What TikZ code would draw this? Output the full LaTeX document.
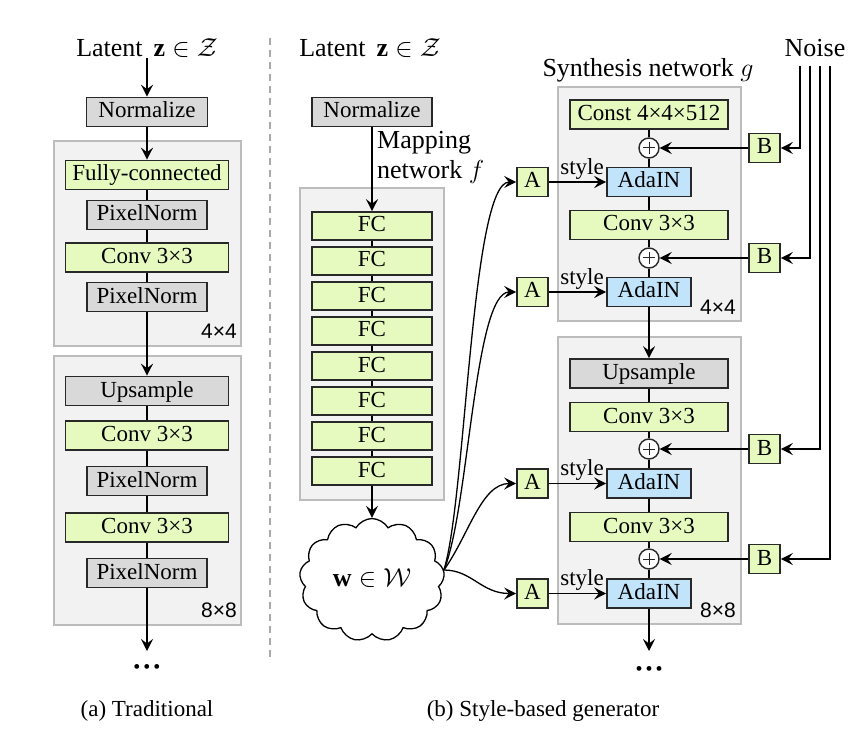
\documentclass[tikz,border=0pt]{standalone}
\usepackage{fix-cm}
\usepackage{fontspec}
\setmainfont{Liberation Serif}
\newfontfamily\labsans{Liberation Sans}
\usetikzlibrary{shapes.symbols,arrows.meta}
\definecolor{fcgreen}{RGB}{230,250,192}
\definecolor{boxgray}{RGB}{217,217,217}
\definecolor{adablue}{RGB}{194,228,250}
\definecolor{blockbg}{RGB}{242,242,242}
\definecolor{blockln}{RGB}{188,188,188}
\definecolor{edgec}{RGB}{40,40,40}
\definecolor{dashc}{RGB}{170,170,170}
\tikzset{
  boxbase/.style={draw=edgec, line width=1.6pt, inner sep=0pt, minimum height=29pt,
    text height=15pt, text depth=3pt, font=\fontsize{23}{27}\selectfont},
  fbox/.style={boxbase, fill=fcgreen},
  gbox/.style={boxbase, fill=boxgray},
  abox/.style={boxbase, fill=adablue, minimum width=84pt},
  sbox/.style={boxbase, fill=fcgreen, minimum width=31pt},
  block/.style={draw=blockln, fill=blockbg, line width=1.3pt, inner sep=0pt},
  titletext/.style={font=\fontsize{26}{30}\selectfont, inner sep=0pt},
  captext/.style={font=\fontsize{23}{27}\selectfont, inner sep=0pt},
  sizetext/.style={font=\labsans\fontsize{21}{24}\selectfont, inner sep=0pt, anchor=base east},
  conn/.style={line width=1.6pt, draw=black},
  arr/.style={conn, -{Stealth[length=12pt,width=12pt,inset=4.5pt]}},
  pluscirc/.style={circle, draw=edgec, fill=white, line width=1.4pt, minimum size=20pt, inner sep=0pt,
    path picture={\draw[line width=1pt] ([xshift=-6pt]path picture bounding box.center) -- ([xshift=6pt]path picture bounding box.center)
      ([yshift=-6pt]path picture bounding box.center) -- ([yshift=6pt]path picture bounding box.center);}},
  styletext/.style={font=\fontsize{23}{27}\selectfont, inner sep=1pt},
}
\begin{document}
\begin{tikzpicture}[x=1pt,y=-1pt]
\useasboundingbox (0,0) rectangle (868,746);
% separator
\draw[dashc, line width=1.2pt, dash pattern=on 7pt off 5pt] (270,38) -- (270,662);
% blocks
\node[block, minimum width=187pt, minimum height=205pt] (T1) at (147.5,243.5) {};
\node[block, minimum width=187pt, minimum height=269pt] (T2) at (147.5,490.5) {};
\node[block, minimum width=144pt, minimum height=312pt] (M) at (372,344) {};
\node[block, minimum width=183pt, minimum height=234pt] (S1) at (649.5,204) {};
\node[block, minimum width=183pt, minimum height=287pt] (S2) at (649.5,480.5) {};
\node[sizetext] (l1) at (237,338) {4×4};
\node[sizetext] (l2) at (237,617) {8×8};
\node[sizetext] (l3) at (736,315) {4×4};
\node[sizetext] (l4) at (736,617) {8×8};

% ---------- (a) traditional ----------
\node[titletext] (lat1) at (147,48) {Latent \,$\mathbf{z}\in\mathcal{Z}$};
\node[gbox, minimum width=121pt] (norm1) at (147,112) {Normalize};
\node[fbox, minimum width=163pt] (fc) at (147,175) {Fully-connected};
\node[gbox, minimum width=120pt] (pn1) at (147,215) {PixelNorm};
\node[fbox, minimum width=163pt] (cv1) at (147,257.5) {Conv 3×3};
\node[gbox, minimum width=120pt] (pn2) at (147,297) {PixelNorm};
\node[gbox, minimum width=163pt] (up1) at (147,391) {Upsample};
\node[fbox, minimum width=163pt] (cv2) at (147,435.5) {Conv 3×3};
\node[gbox, minimum width=120pt] (pn3) at (147,481) {PixelNorm};
\node[fbox, minimum width=163pt] (cv3) at (147,527.5) {Conv 3×3};
\node[gbox, minimum width=120pt] (pn4) at (147,573) {PixelNorm};
\coordinate (end1) at (147,651);
\node[font=\fontsize{20}{24}\selectfont, inner sep=0pt] (dots1) at (147,669) {\textbullet\kern3pt\textbullet\kern3pt\textbullet};
\node[captext] (capa) at (147,711) {(a) Traditional};

\draw[arr] (lat1) -- (norm1);
\draw[arr] (norm1) -- (fc);
\draw[conn] (fc) -- (pn1);
\draw[conn] (pn1) -- (cv1);
\draw[conn] (cv1) -- (pn2);
\draw[arr] (pn2) -- (up1);
\draw[conn] (up1) -- (cv2);
\draw[conn] (cv2) -- (pn3);
\draw[conn] (pn3) -- (cv3);
\draw[conn] (cv3) -- (pn4);
\draw[arr] (pn4) -- (end1);

% ---------- (b) mapping ----------
\node[titletext] (lat2) at (370,48) {Latent \,$\mathbf{z}\in\mathcal{Z}$};
\node[gbox, minimum width=120pt] (norm2) at (372,112) {Normalize};
\node[titletext, anchor=west, align=left] (mapf) at (377,157) {Mapping\\network $f$};
\foreach \i in {1,...,8} {
  \node[fbox, minimum width=120pt, minimum height=28pt] (f\i) at (372,{226+35*(\i-1)}) {FC};
}
\foreach \i/\j in {1/2,2/3,3/4,4/5,5/6,6/7,7/8} { \draw[conn] (f\i) -- (f\j); }
\node[cloud, draw=black, line width=1.3pt, fill=white, cloud puffs=13, cloud puff arc=120,
  minimum width=145pt, minimum height=114pt, inner sep=0pt, font=\fontsize{26}{30}\selectfont] (w) at (372,580)
  {\raisebox{4pt}{$\mathbf{w}\in\mathcal{W}$}};
\draw[arr] (norm2) -- (f1);
\draw[arr] (f8) -- (w);

% ---------- synthesis ----------
\node[titletext] (synt) at (648,70) {Synthesis network $g$};
\node[titletext] (noise) at (815,48) {Noise};
\node[fbox, minimum width=158pt] (const) at (649,114.5) {Const 4×4×512};
\node[pluscirc] (p1) at (649,148) {};
\node[abox] (ada1) at (649,182) {AdaIN};
\node[fbox, minimum width=158pt] (cv4) at (649,225) {Conv 3×3};
\node[pluscirc] (p2) at (649,258) {};
\node[abox] (ada2) at (649,292) {AdaIN};
\node[gbox, minimum width=158pt] (up2) at (649,373.5) {Upsample};
\node[fbox, minimum width=158pt] (cv5) at (649,417) {Conv 3×3};
\node[pluscirc] (p3) at (649,449) {};
\node[abox] (ada3) at (649,483.5) {AdaIN};
\node[fbox, minimum width=158pt] (cv6) at (649,527) {Conv 3×3};
\node[pluscirc] (p4) at (649,559) {};
\node[abox] (ada4) at (649,593.5) {AdaIN};
\coordinate (end2) at (649,651);
\node[font=\fontsize{20}{24}\selectfont, inner sep=0pt] (dots2) at (649,671) {\textbullet\kern3pt\textbullet\kern3pt\textbullet};
\node[captext] (capb) at (543,711) {(b) Style-based generator};

\node[sbox] (a1) at (532.5,182) {A};
\node[sbox] (a2) at (532.5,292) {A};
\node[sbox] (a3) at (532.5,483.5) {A};
\node[sbox] (a4) at (532.5,593.5) {A};
\node[sbox] (b1) at (764.5,148) {B};
\node[sbox] (b2) at (764.5,258) {B};
\node[sbox] (b3) at (764.5,449) {B};
\node[sbox] (b4) at (764.5,559) {B};
\coordinate (n1) at (800,66);
\coordinate (n2) at (810,66);
\coordinate (n3) at (820,66);
\coordinate (n4) at (830,66);

\draw[conn] (const) -- (p1);
\draw[conn] (p1) -- (ada1);
\draw[conn] (ada1) -- (cv4);
\draw[conn] (cv4) -- (p2);
\draw[conn] (p2) -- (ada2);
\draw[arr] (ada2) -- (up2);
\draw[conn] (up2) -- (cv5);
\draw[conn] (cv5) -- (p3);
\draw[conn] (p3) -- (ada3);
\draw[conn] (ada3) -- (cv6);
\draw[conn] (cv6) -- (p4);
\draw[conn] (p4) -- (ada4);
\draw[arr] (ada4) -- (end2);

\draw[arr] (b1) -- (p1);
\draw[arr] (b2) -- (p2);
\draw[arr] (b3) -- (p3);
\draw[arr] (b4) -- (p4);
\draw[arr] (n1) |- (b1.east);
\draw[arr] (n2) |- (b2.east);
\draw[arr] (n3) |- (b3.east);
\draw[arr] (n4) |- (b4.east);

\draw[arr] (a1) -- node[styletext, above, pos=0.58, yshift=1pt] {style} (ada1);
\draw[arr] (a2) -- node[styletext, above, pos=0.58, yshift=1pt] {style} (ada2);
\draw[arr] (a3) -- node[styletext, above, pos=0.58, yshift=1pt] {style} (ada3);
\draw[arr] (a4) -- node[styletext, above, pos=0.58, yshift=1pt] {style} (ada4);

\draw[arr, line width=1.3pt] ([yshift=10pt]w.east) .. controls +(22,-70) and +(-45,0) .. (a1.west);
\draw[arr, line width=1.3pt] ([yshift=10pt]w.east) .. controls +(25,-60) and +(-42,0) .. (a2.west);
\draw[arr, line width=1.3pt] ([yshift=10pt]w.east) .. controls +(25,-35) and +(-35,0) .. (a3.west);
\draw[arr, line width=1.3pt] ([yshift=10pt]w.east) .. controls +(28,0) and +(-35,0) .. (a4.west);
\end{tikzpicture}
\end{document}
